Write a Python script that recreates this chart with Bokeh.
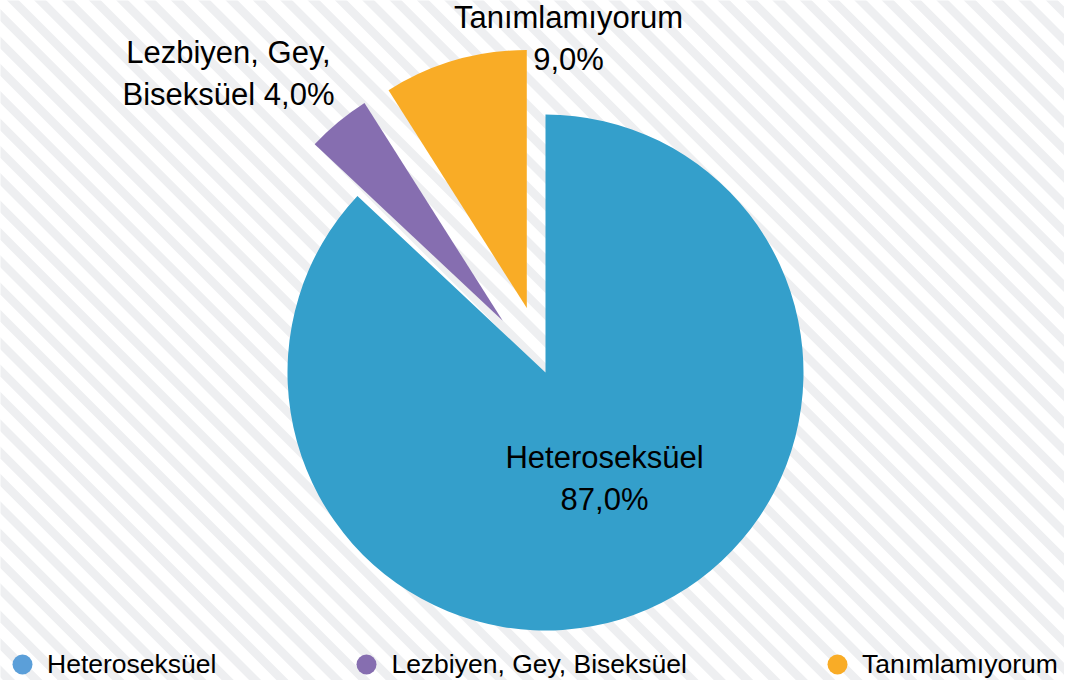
import numpy as np
from bokeh.plotting import figure
from bokeh.models import ColumnDataSource, Range1d, Legend, LegendItem
from bokeh.core.properties import value
from bokeh.embed import file_html
from bokeh.resources import INLINE

# ---- data ----
categories = ["Heteroseksüel", "Lezbiyen, Gey, Biseksüel", "Tanımlamıyorum"]
percent = [87.0, 4.0, 9.0]
slice_labels = ["Heteroseksüel\n87,0%", "Lezbiyen, Gey,\nBiseksüel 4,0%", "Tanımlamıyorum\n9,0%"]

# ---- styles / layout ----
slice_colors = ["#349fcb", "#866eb0", "#f9ac26"]
legend_colors = ["#5b9fd9", "#866eb0", "#f9ac26"]
W, H = 1064, 680
CX, CY, R = 545, 308, 258
EXPLODE = [0.0, 0.26, 0.26]
LABEL_OFFSETS = [(59, -106), (-317, 299), (23, 334)]
FONT = "Liberation Sans"

frac = np.array(percent) / sum(percent)
cum_end = np.cumsum(frac)
cum_start = cum_end - frac
start = np.deg2rad(90 - 360 * cum_start)
end = np.deg2rad(90 - 360 * cum_end)
mid = (start + end) / 2
xs = CX + np.array(EXPLODE) * R * np.cos(mid)
ys = CY + np.array(EXPLODE) * R * np.sin(mid)
lx = [CX + dx for dx, dy in LABEL_OFFSETS]
ly = [CY + dy for dx, dy in LABEL_OFFSETS]

src = ColumnDataSource(dict(x=xs, y=ys, start=start, end=end, color=slice_colors,
                            label=slice_labels, lx=lx, ly=ly, cat=categories))

p = figure(width=W, height=H, x_range=Range1d(0, W), y_range=Range1d(0, H),
           output_backend="svg", toolbar_location=None, min_border=0,
           x_axis_type=None, y_axis_type=None,
           background_fill_color="white", border_fill_color="white",
           outline_line_color=None)
p.grid.visible = False

# background diagonal stripes (decoration)
period = 27.34
cs = np.arange(12.5 - 40 * period, W + 60, period)
cs = cs[cs > -H - 60]
p.segment(x0=cs + H + 20, y0=-20, x1=cs - 20, y1=H + 20,
          line_color="#eeeff1", line_width=8.5)

p.wedge(x="x", y="y", radius=R, start_angle="start", end_angle="end",
        direction="clock", fill_color="color", line_color=None, source=src)

p.text(x="lx", y="ly", text="label", text_align="center", text_baseline="middle",
       text_font=value(FONT), text_font_size="31px", text_color="#000000",
       text_line_height=1.2, source=src)

items = []
for cat, col in zip(categories, legend_colors):
    r = p.scatter(x=[CX], y=[CY], marker="circle", size=0, fill_color=col, line_color=None)
    items.append(LegendItem(label=cat, renderers=[r]))

legend = Legend(items=items, orientation="horizontal", location=(-3, -9),
                glyph_width=50, glyph_height=50, label_standoff=-3, spacing=125,
                padding=0, margin=0, background_fill_alpha=0, border_line_alpha=0,
                label_text_font=FONT, label_text_font_size="26.5px",
                label_text_color="#000000")
p.add_layout(legend)

with open("out.html", "w", encoding="utf-8") as f:
    f.write(file_html(p, INLINE, title="Pie"))
